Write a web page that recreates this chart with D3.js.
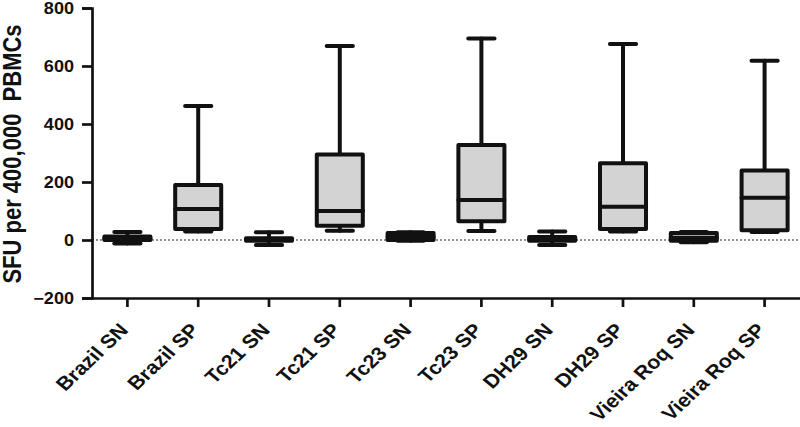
<!DOCTYPE html>
<html>
<head>
<meta charset="utf-8">
<script src="https://cdn.jsdelivr.net/npm/d3@7"></script>
<style>
  body { margin: 0; background: #fff; }
  svg { display: block; font-family: 'Liberation Sans', Arial, sans-serif; }
</style>
</head>
<body>
<svg id="chart" width="800" height="427"></svg>
<script>
// Groups along the x axis
const categories = ['Brazil SN', 'Brazil SP', 'Tc21 SN', 'Tc21 SP', 'Tc23 SN',
  'Tc23 SP', 'DH29 SN', 'DH29 SP', 'Vieira Roq SN', 'Vieira Roq SP'];

// Box plot statistics (min-to-max whiskers)
const mins    = [-12, 29, -17, 32, -3, 31, -17, 29, -8, 28];
const q1s     = [0, 38, -3, 49, 0, 65, -3, 38, -3, 34];
const medians = [5, 107, 2, 100, 10, 138, 3, 115, 8, 146];
const q3s     = [12, 190, 6, 295, 24, 328, 10, 265, 24, 240];
const maxs    = [28, 462, 27, 669, 27, 695, 29, 676, 28, 618];

const yTicks = [-200, 0, 200, 400, 600, 800];

const boxes = categories.map((c, i) => ({
  name: c, min: mins[i], q1: q1s[i], median: medians[i], q3: q3s[i], max: maxs[i],
}));

const svg = d3.select('#chart');
const plotLeft = 92, plotRight = 800, plotTop = 8, plotBottom = 298;
const stretch = 1.13; // text in the source figure is a bit wider than tall

const x = d3.scaleBand().domain(categories).range([plotLeft, plotRight]);
const y = d3.scaleLinear().domain([-200, 800]).range([plotBottom, plotTop]);

const boxW = x.bandwidth() * 0.65;
const capW = x.bandwidth() * 0.37;

// Dotted baseline at zero
svg.append('line')
  .attr('x1', plotLeft).attr('x2', plotRight)
  .attr('y1', y(0)).attr('y2', y(0))
  .attr('stroke', '#222')
  .attr('stroke-width', 1)
  .attr('stroke-dasharray', '2,2');

// Boxes
const g = svg.selectAll('.box')
  .data(boxes)
  .enter()
  .append('g')
  .attr('class', 'box')
  .attr('transform', (d) => `translate(${x(d.name) + x.bandwidth() / 2},0)`);

const stroke = (sel) => sel
  .attr('stroke', '#111')
  .attr('stroke-width', 4)
  .attr('stroke-linecap', 'round')
  .attr('stroke-linejoin', 'round');

// whisker stems
g.append('line').attr('x1', 0).attr('x2', 0)
  .attr('y1', (d) => y(d.q3)).attr('y2', (d) => y(d.max)).call(stroke);
g.append('line').attr('x1', 0).attr('x2', 0)
  .attr('y1', (d) => y(d.q1)).attr('y2', (d) => y(d.min)).call(stroke);

// whisker caps
g.append('line').attr('x1', -capW / 2).attr('x2', capW / 2)
  .attr('y1', (d) => y(d.max)).attr('y2', (d) => y(d.max)).call(stroke);
g.append('line').attr('x1', -capW / 2).attr('x2', capW / 2)
  .attr('y1', (d) => y(d.min)).attr('y2', (d) => y(d.min)).call(stroke);

// box body
g.append('rect')
  .attr('x', -boxW / 2)
  .attr('width', boxW)
  .attr('y', (d) => y(d.q3))
  .attr('height', (d) => y(d.q1) - y(d.q3))
  .attr('fill', '#d3d3d3')
  .call(stroke);

// median
g.append('line').attr('x1', -boxW / 2).attr('x2', boxW / 2)
  .attr('y1', (d) => y(d.median)).attr('y2', (d) => y(d.median)).call(stroke);

// Y axis
const yAxis = svg.append('g')
  .attr('transform', `translate(${plotLeft},0)`)
  .call(d3.axisLeft(y).tickValues(yTicks).tickSize(10).tickPadding(0).tickFormat(d3.format('d')));
yAxis.select('.domain').attr('stroke', '#111').attr('stroke-width', 2.7);
yAxis.selectAll('.tick line').attr('stroke', '#111').attr('stroke-width', 2.7);
yAxis.selectAll('.tick text')
  .attr('fill', '#111')
  .attr('x', 0)
  .attr('transform', `translate(-18,0) scale(${stretch},1)`)
  .style('font-size', '16px')
  .style('font-weight', 'bold');

// X axis
const xAxis = svg.append('g')
  .attr('transform', `translate(0,${plotBottom})`)
  .call(d3.axisBottom(x).tickSize(9).tickSizeOuter(0));
xAxis.select('.domain').attr('stroke', '#111').attr('stroke-width', 2.7);
xAxis.selectAll('.tick line').attr('stroke', '#111').attr('stroke-width', 2.7);
xAxis.selectAll('.tick text')
  .attr('fill', '#111')
  .style('font-size', '19px')
  .style('font-weight', 'bold')
  .attr('text-anchor', 'end')
  .attr('dy', null)
  .attr('y', 0)
  .attr('transform', `translate(2,33) scale(${stretch},1) rotate(-47)`);

// Y title
svg.append('text')
  .attr('transform', `translate(21,154) scale(${stretch},1) rotate(-90)`)
  .attr('text-anchor', 'middle')
  .attr('fill', '#111')
  .style('font-size', '22px')
  .style('font-weight', 'bold')
  .style('white-space', 'pre')
  .text('SFU per 400,000  PBMCs');
</script>
</body>
</html>
